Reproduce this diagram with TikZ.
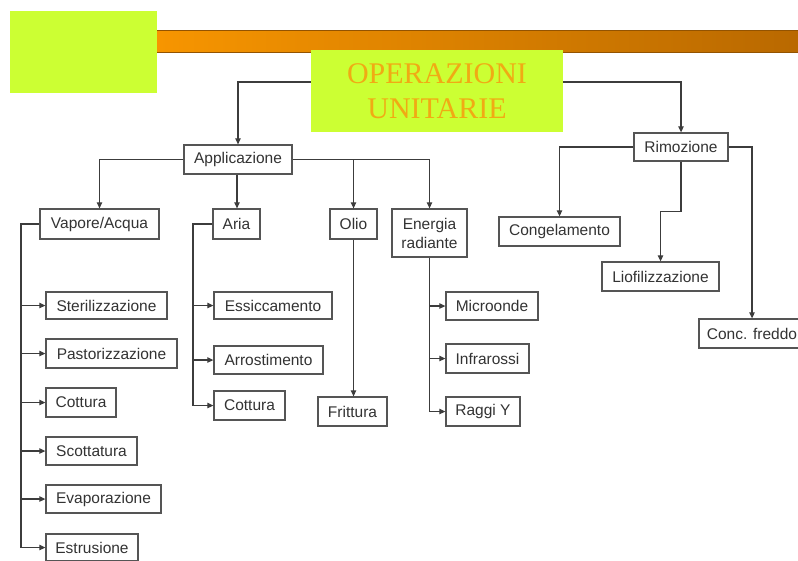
\documentclass[tikz,border=0pt]{standalone}
\usepackage{fontspec}
\setmainfont{Liberation Sans}
\newfontfamily\titlefont{Liberation Serif}
\usetikzlibrary{arrows.meta,calc}
\definecolor{lime}{HTML}{CCFF33}
\definecolor{titleorange}{HTML}{F0AA14}
\definecolor{barL}{HTML}{F79500}
\definecolor{barR}{HTML}{B86800}
\definecolor{edgegray}{HTML}{555555}
\definecolor{linegray}{HTML}{3C3C3C}
\definecolor{txtgray}{HTML}{333333}
\tikzset{
  box/.style={draw=edgegray, line width=1.3pt, inner sep=0pt, fill=white,
    text=txtgray, align=center, font=\fontsize{15.5}{19}\selectfont},
  conn/.style={draw=linegray, line width=1.2pt},
  arr/.style={conn, -{Triangle[length=6pt,width=5.5pt]}}
}
\newcommand{\mybox}[6]{\node[box,minimum width={#4-#2},minimum height={#5-#3}] (#1) at ({(#2+#4)/2},{(#3+#5)/2}) {#6};}
\begin{document}
\begin{tikzpicture}[x=1pt,y=-1pt]
\useasboundingbox (0,0) rectangle (798,560);
\clip (0,0) rectangle (798,560);
% header
\fill[lime] (10,11) rectangle (157,93);
\shade[left color=barL, right color=barR] (157,30) rectangle (810,52);
\draw[barR!80!black, line width=0.6pt] (157,30) -- (810,30);
\draw[barR!80!black, line width=0.6pt] (157,52) -- (810,52);
\node[fill=lime, minimum width=252pt, minimum height=82pt, inner sep=0pt,
  text=titleorange, align=center, font=\titlefont\fontsize{30}{35}\selectfont]
  (op) at (437,91) {OPERAZIONI\\UNITARIE};
% boxes
\mybox{app}{184}{145}{292}{174}{Applicazione}
\mybox{rim}{634}{133}{728}{161}{Rimozione}
\mybox{vap}{40}{209}{159}{239}{Vapore/Acqua}
\mybox{aria}{213}{209}{260}{239}{Aria}
\mybox{olio}{330}{209}{377}{239}{Olio}
\mybox{ener}{392}{209}{467}{257}{Energia\\radiante}
\mybox{cong}{499}{217}{620}{246}{Congelamento}
\mybox{lio}{602}{262}{719}{291}{Liofilizzazione}
\mybox{conc}{699}{319}{805}{348}{Conc. freddo}
\mybox{ster}{46}{292}{167}{319}{Sterilizzazione}
\mybox{past}{46}{339}{177}{368}{Pastorizzazione}
\mybox{cot1}{46}{388}{116}{417}{Cottura}
\mybox{scot}{46}{437}{137}{465}{Scottatura}
\mybox{evap}{46}{485}{161}{513}{Evaporazione}
\mybox{estr}{46}{534}{138}{561}{Estrusione}
\mybox{ess}{214}{292}{332}{319}{Essiccamento}
\mybox{arro}{214}{346}{323}{374}{Arrostimento}
\mybox{cot2}{214}{391}{285}{420}{Cottura}
\mybox{fri}{318}{397}{387}{426}{Frittura}
\mybox{micro}{446}{292}{538}{320}{Microonde}
\mybox{infra}{446}{344}{529}{373}{Infrarossi}
\mybox{raggi}{446}{397}{520}{426}{Raggi Y}
% top level
\draw[arr] ([yshift=9pt]op.west) -| (app.north);
\draw[arr] ([yshift=9pt]op.east) -| (rim.north);
% Applicazione
\draw[arr] (app.west) -| (vap.north);
\draw[arr] ([xshift=-1pt]app.south) -- ([xshift=-1pt]app.south |- aria.north);
\draw[arr] (app.east) -| (olio.north);
\draw[arr] (app.east) -| (ener.north);
% Vapore/Acqua
\coordinate (vt) at (21,224);
\draw[conn, line width=1.6pt] (vap.west) -- (vt) -- (vt |- estr.west);
\foreach \n in {ster,past,cot1,scot,evap,estr}
  \draw[arr] (vt |- \n.west) -- (\n.west);
% Aria
\coordinate (at) at (193,224);
\draw[conn] (aria.west) -- (at) -- (at |- cot2.west);
\foreach \n in {ess,arro,cot2}
  \draw[arr] (at |- \n.west) -- (\n.west);
% Olio
\draw[arr] (olio.south) -- (olio.south |- fri.north);
% Energia
\draw[conn] (ener.south) -- (ener.south |- raggi.west);
\foreach \n in {micro,infra,raggi}
  \draw[arr] (ener.south |- \n.west) -- (\n.west);
% Rimozione
\draw[arr] (rim.west) -| (cong.north);
\draw[arr] (rim.south) -- ++(0,50) -| (lio.north);
\draw[arr] (rim.east) -| (conc.north);
\end{tikzpicture}
\end{document}
